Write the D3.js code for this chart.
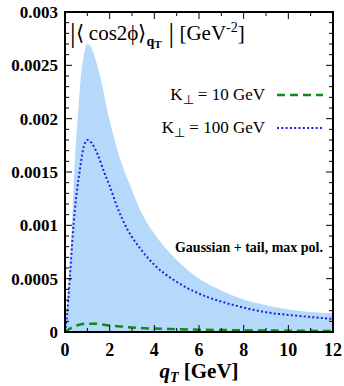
<!DOCTYPE html>
<html>
<head>
<meta charset="utf-8">
<script src="https://cdn.jsdelivr.net/npm/d3@7"></script>
<style>
  body { margin: 0; background: #fff; }
</style>
</head>
<body>
<div id="chart"></div>
<script>
// upper edge of the shaded band (lower edge is 0), values in units of 1e-3
const bandQ   = [0, 0.05, 0.15, 0.3, 0.4, 0.5, 0.6, 0.7, 0.85, 1.0, 1.15, 1.3, 1.6, 2.0, 2.5, 3.0, 3.4, 4.0, 4.85, 5.5, 6.35, 7.0, 7.84, 9.33, 10.82, 12];
const bandTop = [0, 0.12, 0.45, 0.95, 1.45, 1.8, 2.1, 2.37, 2.6, 2.7, 2.68, 2.6, 2.37, 1.98, 1.6, 1.33, 1.13, 0.92, 0.706, 0.58, 0.456, 0.39, 0.316, 0.237, 0.19, 0.175];

// K_perp = 100 GeV (dotted)
const k100Q = [0, 0.07, 0.22, 0.34, 0.45, 0.55, 0.65, 0.8, 1.0, 1.2, 1.45, 1.75, 2.0, 2.34, 2.8, 3.36, 4.0, 4.85, 5.5, 6.35, 7.0, 7.84, 8.5, 9.33, 10.0, 10.82, 12];
const k100V = [0, 0.11, 0.52, 0.89, 1.16, 1.35, 1.5, 1.7, 1.8, 1.77, 1.67, 1.5, 1.37, 1.17, 0.96, 0.785, 0.63, 0.49, 0.41, 0.33, 0.285, 0.237, 0.205, 0.175, 0.16, 0.144, 0.122];

// K_perp = 10 GeV (dashed)
const k10Q = [0, 0.3, 0.6, 1.0, 1.3, 2.0, 3.0, 4.0, 5.0, 6.0, 8.0, 10.0, 12];
const k10V = [0, 0.04, 0.065, 0.078, 0.078, 0.062, 0.042, 0.032, 0.026, 0.022, 0.016, 0.012, 0.01];

const xTicks = [0, 2, 4, 6, 8, 10, 12];
const yTicks = [0, 0.0005, 0.001, 0.0015, 0.002, 0.0025, 0.003];
const yTickLabels = ["0", "0.0005", "0.001", "0.0015", "0.002", "0.0025", "0.003"];

const FONT = "Liberation Serif";
const W = 344, H = 386;
const m = { top: 12, right: 11, bottom: 54, left: 65 };
const iw = W - m.left - m.right;
const ih = H - m.top - m.bottom;

const svg = d3.select("#chart").append("svg")
  .attr("width", W).attr("height", H)
  .attr("font-family", FONT);

const g = svg.append("g")
  .attr("transform", `translate(${m.left},${m.top})`);

const x = d3.scaleLinear().domain([0, 12]).range([0, iw]);
const y = d3.scaleLinear().domain([0, 0.003]).range([ih, 0]);

svg.append("defs").append("clipPath").attr("id", "clip")
  .append("rect").attr("width", iw).attr("height", ih);

const plot = g.append("g").attr("clip-path", "url(#clip)");

const toPts = (qs, vs) => qs.map((q, i) => ({ q, v: vs[i] * 1e-3 }));

// band
plot.append("path")
  .datum(toPts(bandQ, bandTop))
  .attr("fill", "#b5d9fb")
  .attr("d", d3.area().curve(d3.curveMonotoneX)
    .x(d => x(d.q)).y0(y(0)).y1(d => y(d.v)));

const line = d3.line().curve(d3.curveMonotoneX)
  .x(d => x(d.q)).y(d => y(d.v));

plot.append("path")
  .datum(toPts(k100Q, k100V))
  .attr("fill", "none")
  .attr("stroke", "#1f1fe6")
  .attr("stroke-width", 2)
  .attr("stroke-dasharray", "2 2.3")
  .attr("d", line);

plot.append("path")
  .datum(toPts(k10Q, k10V))
  .attr("fill", "none")
  .attr("stroke", "#138a13")
  .attr("stroke-width", 2.5)
  .attr("stroke-dasharray", "8 5")
  .attr("d", line);

// ticks (inward, mirrored on all sides)
const ticksG = g.append("g").attr("stroke", "#000").attr("stroke-width", 1);
const xMinor = d3.range(0, 12.01, 1);
const yMinor = d3.range(0, 0.00301, 0.0001);
xMinor.forEach(v => {
  const major = v % 2 === 0;
  const len = major ? 7 : 4;
  ticksG.append("line").attr("x1", x(v)).attr("x2", x(v)).attr("y1", ih).attr("y2", ih - len);
  ticksG.append("line").attr("x1", x(v)).attr("x2", x(v)).attr("y1", 0).attr("y2", len);
});
yMinor.forEach((v, i) => {
  const major = i % 5 === 0;
  const len = major ? 7 : 4;
  ticksG.append("line").attr("x1", 0).attr("x2", len).attr("y1", y(v)).attr("y2", y(v));
  ticksG.append("line").attr("x1", iw).attr("x2", iw - len).attr("y1", y(v)).attr("y2", y(v));
});

// frame
g.append("rect")
  .attr("width", iw).attr("height", ih)
  .attr("fill", "none").attr("stroke", "#000").attr("stroke-width", 2);

// tick labels
g.selectAll(".ylab").data(yTicks).join("text")
  .attr("class", "ylab")
  .attr("x", -7).attr("y", d => y(d) + 6)
  .attr("text-anchor", "end")
  .attr("font-weight", "bold").attr("font-size", 17)
  .text((d, i) => yTickLabels[i]);

g.selectAll(".xlab").data(xTicks).join("text")
  .attr("class", "xlab")
  .attr("x", d => x(d)).attr("y", ih + 24)
  .attr("text-anchor", "middle")
  .attr("font-weight", "bold").attr("font-size", 18)
  .text(d => d);

// axis title
const xt = svg.append("text")
  .attr("x", 199).attr("y", 378)
  .attr("text-anchor", "middle")
  .attr("font-weight", "bold").attr("font-size", 21);
xt.append("tspan").attr("font-style", "italic").text("q");
xt.append("tspan").attr("font-style", "italic").attr("font-size", 14).attr("dy", 4).text("T");
xt.append("tspan").attr("dy", -4).text(" [GeV]");

// y label inside the frame
const yl = svg.append("text")
  .attr("x", 70).attr("y", 40)
  .attr("font-size", 21);
yl.append("tspan").attr("font-size", 28).attr("dy", 2).text("|");
yl.append("tspan").attr("dy", -2).text("\u27E8 cos2\u03D5\u27E9");
yl.append("tspan").attr("font-size", 14).attr("font-weight", "bold").attr("dy", 6).text("q");
yl.append("tspan").attr("font-size", 11).attr("font-weight", "bold").attr("dy", 2).text("T");
yl.append("tspan").attr("font-size", 28).attr("dy", -6).text(" |");
yl.append("tspan").attr("dy", -2).text(" [GeV");
yl.append("tspan").attr("font-size", 14).attr("dy", -8).text("-2");
yl.append("tspan").attr("dy", 8).text("]");

// legend
const legend = [
  { label: "10 GeV", color: "#138a13", dash: "8 5", w: 2.5, ty: 100, ly: 95 },
  { label: "100 GeV", color: "#1f1fe6", dash: "2 2.3", w: 2, ty: 133, ly: 128 }
];
legend.forEach(d => {
  const t = svg.append("text")
    .attr("x", 265).attr("y", d.ty)
    .attr("text-anchor", "end").attr("font-size", 17);
  t.append("tspan").text("K");
  t.append("tspan").attr("font-size", 13).attr("dy", 4).text("\u22A5");
  t.append("tspan").attr("dy", -4).text(" = " + d.label);
  svg.append("line")
    .attr("x1", 277).attr("x2", 323).attr("y1", d.ly).attr("y2", d.ly)
    .attr("stroke", d.color).attr("stroke-width", d.w)
    .attr("stroke-dasharray", d.dash);
});

svg.append("text")
  .attr("x", 323).attr("y", 252)
  .attr("text-anchor", "end")
  .attr("font-weight", "bold").attr("font-size", 14)
  .text("Gaussian + tail, max pol.");
</script>
</body>
</html>
